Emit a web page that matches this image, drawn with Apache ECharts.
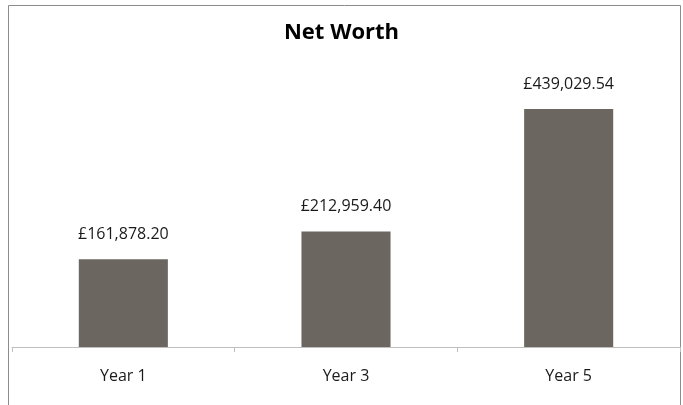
<!DOCTYPE html>
<html>
<head>
<meta charset="utf-8">
<script src="https://cdn.jsdelivr.net/npm/echarts@6/dist/echarts.min.js"></script>
<style>
  html, body { margin: 0; padding: 0; background: #fff; }
  #chart { width: 683px; height: 405px; }
</style>
</head>
<body>
<div id="chart"></div>
<script>
// Net worth at each milestone year
const categories = ['Year 1', 'Year 3', 'Year 5'];
const netWorth = [161878.20, 212959.40, 439029.54];

const fmtGBP = v => '£' + v.toLocaleString('en-GB', { minimumFractionDigits: 2, maximumFractionDigits: 2 });

const chart = echarts.init(document.getElementById('chart'), null, { renderer: 'canvas' });
chart.setOption({
  animation: false,
  backgroundColor: '#ffffff',
  title: {
    text: 'Net Worth',
    left: 'center',
    top: 17,
    textStyle: { fontFamily: 'Open Sans', fontWeight: 'bold', fontSize: 22, color: '#000' }
  },
  graphic: [{
    type: 'rect',
    shape: { x: 8.5, y: 5.5, width: 672, height: 420 },
    style: { fill: 'none', stroke: '#8c8c8c', lineWidth: 1 },
    silent: true
  }],
  grid: { left: 12, right: 3, top: 76, bottom: 58, containLabel: false },
  xAxis: {
    type: 'category',
    data: categories,
    axisLine: { lineStyle: { color: '#bfbfbf', width: 1 } },
    axisTick: { show: true, length: 5, lineStyle: { color: '#bfbfbf' } },
    axisLabel: { fontFamily: 'Open Sans', fontSize: 16, color: '#1a1a1a', margin: 21 }
  },
  yAxis: {
    type: 'value',
    min: 0,
    max: 500000,
    show: false,
    splitLine: { show: false }
  },
  series: [{
    type: 'bar',
    data: netWorth,
    barWidth: '40%',
    itemStyle: { color: '#6b6760' },
    label: {
      show: true,
      position: 'top',
      distance: 17,
      fontFamily: 'Open Sans',
      fontSize: 16,
      color: '#1a1a1a',
      formatter: p => fmtGBP(p.value)
    }
  }]
});
</script>
</body>
</html>
